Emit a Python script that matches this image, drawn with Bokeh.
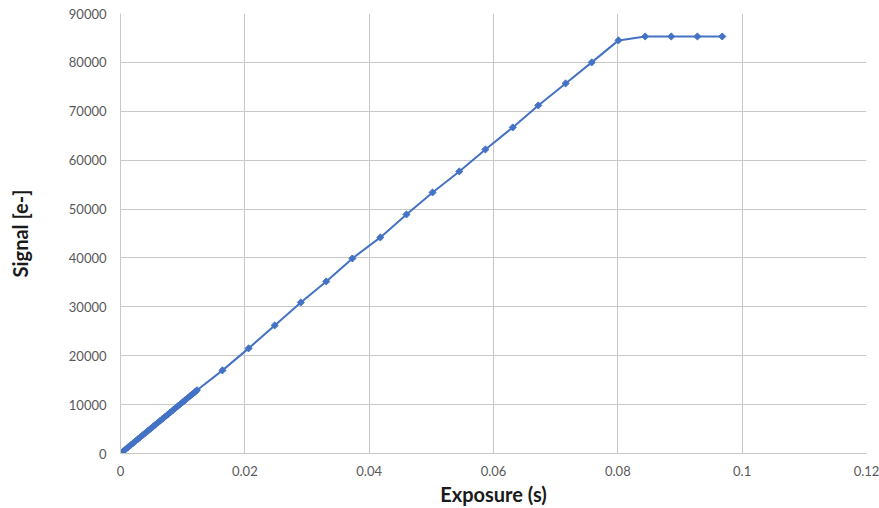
import math
from bokeh.plotting import figure
from bokeh.models import FixedTicker, CustomJSTickFormatter, ColumnDataSource
from bokeh.embed import file_html
from bokeh.resources import INLINE

# Data
exposure = [0.0, 0.0004, 0.0008, 0.0012, 0.0016, 0.0020, 0.0024, 0.0028, 0.0032, 0.0036,
            0.0040, 0.0044, 0.0048, 0.0052, 0.0056, 0.0060, 0.0064, 0.0068, 0.0072, 0.0076,
            0.0080, 0.0084, 0.0088, 0.0092, 0.0096, 0.0100, 0.0104, 0.0108, 0.0112, 0.0116,
            0.0120, 0.0123,
            0.0164, 0.0206, 0.0248, 0.0290, 0.0331, 0.0373, 0.0418, 0.0460, 0.0502, 0.0545,
            0.0587, 0.0631, 0.0672, 0.0716, 0.0758, 0.0801, 0.0844, 0.0886, 0.0928, 0.0968]
signal = [0, 420, 840, 1260, 1680, 2100, 2520, 2940, 3360, 3780,
          4200, 4620, 5040, 5460, 5880, 6300, 6720, 7140, 7560, 7980,
          8400, 8820, 9240, 9660, 10080, 10500, 10920, 11340, 11760, 12180,
          12600, 12950,
          17000, 21500, 26200, 30900, 35200, 39900, 44200, 48900, 53400, 57700,
          62200, 66700, 71200, 75700, 80000, 84500, 85300, 85300, 85300, 85300]

x_ticks = [0, 0.02, 0.04, 0.06, 0.08, 0.1, 0.12]
y_ticks = [0, 10000, 20000, 30000, 40000, 50000, 60000, 70000, 80000, 90000]

src = ColumnDataSource(dict(x=exposure, y=signal))

p = figure(width=879, height=508, output_backend="svg", toolbar_location=None,
           x_range=(0, 0.12), y_range=(0, 90000),
           min_border_left=120, min_border_right=13, min_border_top=13, min_border_bottom=55)

p.background_fill_color = "white"
p.border_fill_color = "white"
p.outline_line_color = None

line_col = "#4472C4"
p.line("x", "y", source=src, line_color=line_col, line_width=2)
p.scatter("x", "y", source=src, marker="square", size=5, angle=math.pi / 4,
          fill_color=line_col, line_color=line_col)

grid_col = "#c8c8c8"
for ax in (p.xaxis[0], p.yaxis[0]):
    ax.axis_line_color = grid_col
    ax.major_tick_line_color = None
    ax.minor_tick_line_color = None
    ax.major_tick_out = 0
    ax.major_tick_in = 0
    ax.major_label_text_font = "Lato"
    ax.major_label_text_font_size = "13px"
    ax.major_label_text_color = "#595959"
    ax.axis_label_text_font = "Lato"
    ax.axis_label_text_font_style = "bold"
    ax.axis_label_text_font_size = "20px"
    ax.axis_label_text_color = "#1a1a1a"
    ax.formatter = CustomJSTickFormatter(code="return (Math.round(tick*1000)/1000).toString();")

p.xaxis[0].ticker = FixedTicker(ticks=x_ticks)
p.yaxis[0].ticker = FixedTicker(ticks=y_ticks)
p.xaxis[0].axis_label = "Exposure (s)"
p.yaxis[0].axis_label = "Signal [e-]"
p.xaxis[0].major_label_standoff = 12
p.xaxis[0].axis_label_standoff = 3
p.yaxis[0].major_label_standoff = 14
p.yaxis[0].axis_label_standoff = 34

p.xgrid.ticker = FixedTicker(ticks=x_ticks)
p.ygrid.ticker = FixedTicker(ticks=y_ticks)
p.xgrid.grid_line_color = grid_col
p.ygrid.grid_line_color = grid_col
p.xgrid.grid_line_width = 1
p.ygrid.grid_line_width = 1

open("out.html", "w").write(file_html(p, INLINE))
